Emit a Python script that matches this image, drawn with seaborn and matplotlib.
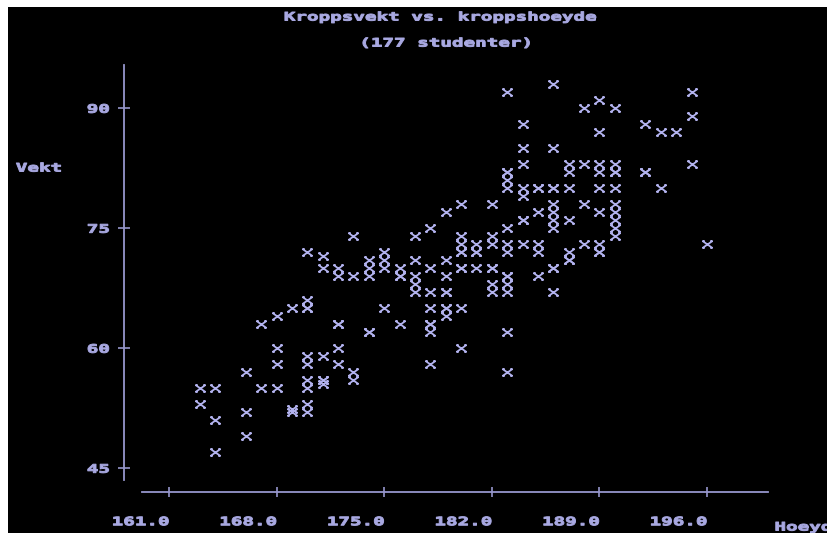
import matplotlib
matplotlib.use("Agg")
import matplotlib.pyplot as plt
import seaborn as sns
import pandas as pd
from matplotlib.path import Path
from matplotlib.markers import MarkerStyle
from matplotlib.patches import Rectangle
from matplotlib.transforms import Affine2D
from matplotlib.patheffects import AbstractPathEffect

# Body height (cm) and body weight (kg), one entry per student
hoeyde = [
    163, 163,
    164, 164, 164,
    166, 166, 166,
    167, 167,
    168, 168, 168, 168,
    169, 169, 169,
    170, 170, 170, 170, 170, 170, 170, 170, 170,
    171, 171, 171, 171, 171,
    172, 172, 172, 172, 172,
    173, 173, 173, 173,
    174, 174, 174, 174,
    175, 175, 175, 175,
    176, 176, 176,
    177, 177, 177, 177, 177,
    178, 178, 178, 178, 178, 178, 178,
    179, 179, 179, 179, 179, 179,
    180, 180, 180, 180, 180, 180, 180,
    181, 181, 181,
    182, 182, 182, 182, 182, 182,
    183, 183, 183, 183, 183, 183, 183, 183, 183, 183, 183, 183,
    184, 184, 184, 184, 184, 184, 184,
    185, 185, 185, 185, 185,
    186, 186, 186, 186, 186, 186, 186, 186, 186,
    187, 187, 187, 187, 187, 187,
    188, 188, 188, 188,
    189, 189, 189, 189, 189, 189, 189, 189,
    190, 190, 190, 190, 190, 190, 190, 190, 190,
    192, 192,
    193, 193,
    194,
    195, 195, 195,
    196,
    # students sharing a height/weight pair with someone listed above
    170, 171, 172, 174, 176, 178, 179, 179, 180, 180, 181, 182,
    183, 183, 184, 185, 186, 186, 187, 189, 190, 192,
]
vekt = [
    55, 53,
    55, 51, 47,
    57, 52, 49,
    63, 55,
    64, 60, 58, 55,
    65, 52, 52.4,
    72, 66, 65, 59, 58, 56, 55, 53, 52,
    71.5, 70, 59, 56, 55.5,
    70, 69, 63, 60, 58,
    74, 69, 57, 56,
    71, 70, 69, 62,
    72, 71, 70, 65,
    70, 69, 63,
    74, 71, 69, 68, 67,
    75, 70, 67, 65, 63, 62, 58,
    77, 71, 69, 67, 65, 64,
    78, 74, 73, 72, 70, 65, 60,
    73, 72, 70,
    78, 74, 73, 70, 68, 67,
    92, 82, 81, 80, 75, 73, 72, 69, 68, 67, 62, 57,
    88, 85, 83, 80, 79, 76, 73,
    80, 77, 73, 72, 69,
    93, 85, 80, 78, 77, 76, 75, 70, 67,
    83, 82, 80, 76, 72, 71,
    90, 83, 78, 73,
    91, 87, 83, 82, 80, 77, 73, 72,
    90, 83, 82, 80, 78, 77, 76, 75, 74,
    88, 82,
    87, 80,
    87,
    92, 89, 83,
    73,
    65, 56, 63, 62, 69, 63, 67, 65, 70, 72, 72, 70,
    82, 69, 76, 80, 80, 70, 71, 72, 82, 82,
]

x_ticks = [161, 168, 175, 182, 189, 196]
x_tick_labels = ["161.0", "168.0", "175.0", "182.0", "189.0", "196.0"]
y_ticks = [45, 60, 75, 90]
y_tick_labels = ["45", "60", "75", "90"]

title_line1 = "Kroppsvekt vs. kroppshoeyde"
title_line2 = "(177 studenter)"
x_label = "Hoeyde"
y_label = "Vekt"

FG = "#a9a9e2"      # text
MARK = "#b2b2ee"    # plot symbols
AXIS = "#9696cc"    # axis lines and ticks
FONT = "DejaVu Sans Mono"
FSIZE = 8.4
STRETCH = 1.65


class HStretch(AbstractPathEffect):
    """Widen glyphs horizontally around the left, centre or right ink edge,
    and thicken them with a thin outline in the text colour."""

    def __init__(self, sx, anchor="center", stroke=0.7):
        super().__init__()
        self.sx = sx
        self.anchor = anchor
        self.stroke = stroke

    def draw_path(self, renderer, gc, tpath, affine, rgbFace=None):
        ext = tpath.get_extents()
        if self.anchor == "left":
            cx = ext.x0
        elif self.anchor == "right":
            cx = ext.x1
        else:
            cx = 0.5 * (ext.x0 + ext.x1)
        t = Affine2D().translate(-cx, 0).scale(self.sx, 1).translate(cx, 0) + affine
        gc0 = renderer.new_gc()
        gc0.copy_properties(gc)
        if rgbFace is not None:
            gc0.set_foreground(rgbFace)
        gc0.set_linewidth(self.stroke)
        renderer.draw_path(gc0, tpath, t, rgbFace)
        gc0.restore()


sns.set_theme(style="dark")
plt.rcParams["font.family"] = [FONT, "DejaVu Sans"]
plt.rcParams["font.weight"] = "bold"

W, H = 827, 533
fig = plt.figure(figsize=(W / 100, H / 100), dpi=100)
fig.patch.set_facecolor("white")
fig.add_artist(Rectangle((8 / W, 0), 1, 1 - 7 / H, transform=fig.transFigure,
                         facecolor="black", edgecolor="none", zorder=-5))

# axes box: y axis at x=124 px, x axis at y=492 px
left_px, right_px, top_px, bottom_px = 124, 768, 65, 492
ax = fig.add_axes([left_px / W, (H - bottom_px) / H,
                   (right_px - left_px) / W, (bottom_px - top_px) / H])
ax.set_facecolor("none")
ax.grid(False)

# symbol: a wide "x" with short serifs at its ends
xv = [(-1, -0.7), (1, 0.7), (-1, 0.7), (1, -0.7),
      (-1, 0.7), (-0.55, 0.7), (1, 0.7), (0.55, 0.7),
      (-1, -0.7), (-0.55, -0.7), (1, -0.7), (0.55, -0.7)]
xc = [Path.MOVETO, Path.LINETO] * 6
x_symbol = MarkerStyle(Path(xv, xc))

df = pd.DataFrame({"Hoeyde": hoeyde, "Vekt": vekt})
sns.scatterplot(data=df, x="Hoeyde", y="Vekt", ax=ax, marker=x_symbol, s=52,
                color=MARK, edgecolor=MARK, linewidth=1.3, legend=False, zorder=3)

ax.set_xlim(158.072, 199.972)
ax.set_ylim(41.9625, 95.3375)

for side in ("top", "right"):
    ax.spines[side].set_visible(False)
for side in ("left", "bottom"):
    ax.spines[side].set_color(AXIS)
    ax.spines[side].set_linewidth(1.3)
ax.spines["left"].set_bounds(43.46, 95.3375)
ax.spines["bottom"].set_bounds(159.24, 199.972)

ax.set_xticks(x_ticks)
ax.set_xticklabels(x_tick_labels, fontfamily=FONT, fontsize=FSIZE, fontweight="bold",
                   color=FG, ha="right")
ax.set_yticks(y_ticks)
ax.set_yticklabels(y_tick_labels, fontfamily=FONT, fontsize=FSIZE, fontweight="bold",
                   color=FG)
ax.tick_params(axis="both", which="major", direction="inout", color=AXIS, width=1.2,
               bottom=True, left=True, top=False, right=False)
ax.tick_params(axis="y", length=8, pad=6.5)
ax.tick_params(axis="x", length=7.5, pad=13)
for lbl in ax.get_yticklabels():
    lbl.set_path_effects([HStretch(STRETCH, "right")])
for lbl in ax.get_xticklabels():
    lbl.set_path_effects([HStretch(STRETCH, "right")])

ax.set_ylabel(y_label, rotation=0, ha="left", va="center", color=FG,
              fontfamily=FONT, fontsize=FSIZE, fontweight="bold",
              path_effects=[HStretch(STRETCH, "left")])
ax.yaxis.set_label_coords((16 - left_px) / (right_px - left_px),
                          (bottom_px - 168) / (bottom_px - top_px))
ax.set_xlabel(x_label, ha="left", va="center", color=FG,
              fontfamily=FONT, fontsize=FSIZE, fontweight="bold",
              path_effects=[HStretch(STRETCH, "left")])
ax.xaxis.set_label_coords((775 - left_px) / (right_px - left_px),
                          (bottom_px - 527) / (bottom_px - top_px))

fig.text(440 / W, 1 - 17 / H, title_line1, ha="center", va="center", color=FG,
         fontfamily=FONT, fontsize=FSIZE, fontweight="bold",
         path_effects=[HStretch(STRETCH, "center")])
fig.text(446 / W, 1 - 43 / H, title_line2, ha="center", va="center", color=FG,
         fontfamily=FONT, fontsize=FSIZE, fontweight="bold",
         path_effects=[HStretch(STRETCH, "center")])

fig.savefig("out.png", dpi=100, facecolor=fig.get_facecolor())
